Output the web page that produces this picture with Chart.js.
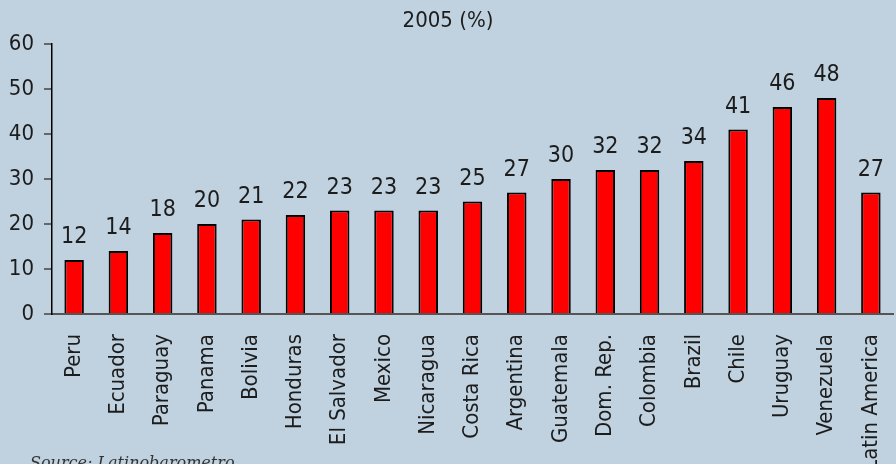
<!DOCTYPE html>
<html lang="en">
<head>
    <meta charset="UTF-8">
    <title>2005 (%)</title>
    <style>
        body {
            margin: 0;
            background-color: #c0d2e0;
        }
        .chart-box {
            width: 896px;
            height: 464px;
            position: relative;
        }
    </style>
    <script src="https://cdn.jsdelivr.net/npm/chart.js"></script>
</head>
<body>
    <div class="chart-box">
        <canvas id="barChart"></canvas>
    </div>
    <script>
        const countries = ['Peru', 'Ecuador', 'Paraguay', 'Panama', 'Bolivia', 'Honduras', 'El Salvador',
            'Mexico', 'Nicaragua', 'Costa Rica', 'Argentina', 'Guatemala', 'Dom. Rep.', 'Colombia',
            'Brazil', 'Chile', 'Uruguay', 'Venezuela', 'Latin America'];
        const percentages = [12, 14, 18, 20, 21, 22, 23, 23, 23, 25, 27, 30, 32, 32, 34, 41, 46, 48, 27];
        const yTicks = [0, 10, 20, 30, 40, 50, 60];

        const narrow = "'DejaVu Sans Condensed', 'Liberation Sans Narrow', sans-serif";
        const textColor = '#1c1c1c';

        // value labels over the bars + subtitle + source note
        const extras = {
            id: 'extras',
            afterDatasetsDraw(chart) {
                const ctx = chart.ctx;
                ctx.save();
                ctx.fillStyle = textColor;
                ctx.font = '23px ' + narrow;
                ctx.textAlign = 'center';
                ctx.textBaseline = 'alphabetic';
                chart.getDatasetMeta(0).data.forEach((bar, i) => {
                    ctx.fillText(percentages[i], bar.x, bar.y - 17);
                });

                ctx.font = '22px ' + narrow;
                ctx.textBaseline = 'middle';
                ctx.fillText('2005 (%)', 448, 21);

                ctx.font = 'italic 16px "DejaVu Serif", "Liberation Serif", serif';
                ctx.textAlign = 'left';
                ctx.textBaseline = 'alphabetic';
                ctx.fillStyle = '#333';
                ctx.fillText('Source: Latinobarometro', 30, 468);
                ctx.restore();
            }
        };

        new Chart(document.getElementById('barChart'), {
            type: 'bar',
            data: {
                labels: countries,
                datasets: [{
                    data: percentages,
                    backgroundColor: '#ff0000',
                    borderColor: '#000000',
                    borderWidth: 2,
                    barPercentage: 0.44,
                    categoryPercentage: 1
                }]
            },
            options: {
                responsive: true,
                maintainAspectRatio: false,
                animation: false,
                layout: {
                    padding: { top: 44, right: 3, left: 0, bottom: 0 }
                },
                plugins: {
                    legend: { display: false },
                    tooltip: { enabled: false }
                },
                scales: {
                    x: {
                        afterFit(scale) {
                            scale.height = 150;
                            scale.paddingLeft = 0;
                            scale.paddingRight = 0;
                        },
                        grid: { display: false, drawTicks: false },
                        border: { color: '#555', width: 2 },
                        ticks: {
                            autoSkip: false,
                            minRotation: 90,
                            maxRotation: 90,
                            padding: 20,
                            color: textColor,
                            font: { family: narrow, size: 22 }
                        }
                    },
                    y: {
                        min: 0,
                        max: 60,
                        afterFit(scale) { scale.width = 52; },
                        afterBuildTicks(scale) {
                            scale.ticks = yTicks.map(v => ({ value: v }));
                        },
                        grid: {
                            drawOnChartArea: false,
                            tickLength: 8,
                            color: '#666',
                            lineWidth: 2
                        },
                        border: { color: '#000', width: 1.5 },
                        ticks: {
                            padding: 10,
                            color: textColor,
                            font: { family: narrow, size: 22 }
                        }
                    }
                }
            },
            plugins: [extras]
        });
    </script>
</body>
</html>
